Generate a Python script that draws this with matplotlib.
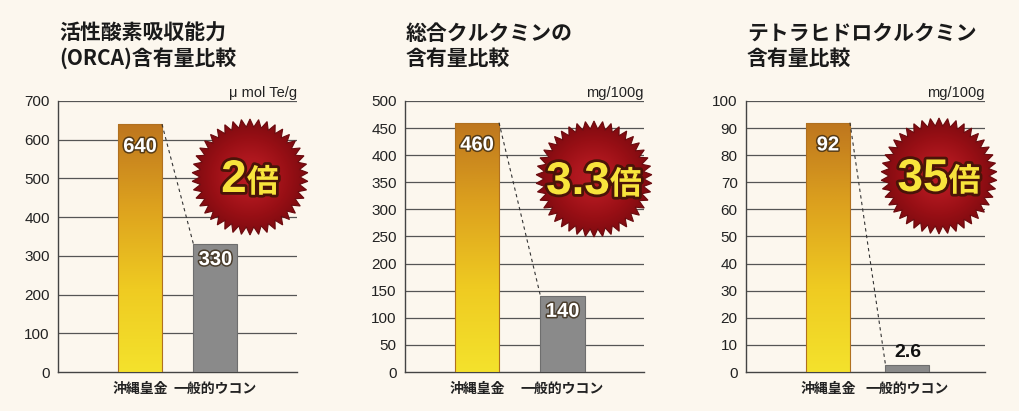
import numpy as np
import matplotlib
matplotlib.use("Agg")
import matplotlib.pyplot as plt
import matplotlib.patheffects as pe
from matplotlib.patches import Polygon
from matplotlib.colors import LinearSegmentedColormap

# ---------------- data ----------------
categories = ["沖縄皇金", "一般的ウコン"]
titles = ["活性酸素吸収能力\n(ORCA)含有量比較", "総合クルクミンの\n含有量比較", "テトラヒドロクルクミン\n含有量比較"]
units = ["μ mol Te/g", "mg/100g", "mg/100g"]
orca_values = [640, 330]
curcumin_values = [460, 140]
thc_values = [92, 2.6]
orca_ticks = [0, 100, 200, 300, 400, 500, 600, 700]
curcumin_ticks = [0, 50, 100, 150, 200, 250, 300, 350, 400, 450, 500]
thc_ticks = [0, 10, 20, 30, 40, 50, 60, 70, 80, 90, 100]
ratio_labels = ["2", "3.3", "35"]
ratio_suffix = "倍"

panels_values = [orca_values, curcumin_values, thc_values]
panels_ticks = [orca_ticks, curcumin_ticks, thc_ticks]

# ---------------- style / layout ----------------
BG = "#FCF7EE"
W, H = 1020, 411
CJK = ["Noto Sans CJK JP", "DejaVu Sans"]
LAT = ["Liberation Sans", "Noto Sans CJK JP"]

fig = plt.figure(figsize=(W / 100, H / 100), dpi=100, facecolor=BG)

ax_left_px = [58, 405, 746]
ax_w_px = 239
y0_px, ytop_px = 372, 101
# per-panel x-limits (bar centres at 0 and 1)
xlims = [(-1.086, 2.08), (-0.842, 1.953), (-1.031, 1.975)]
bar_widths = [0.583, 0.515, 0.553]
star_centres = [(250, 177), (594, 179), (939, 176)]

gold_cmap = LinearSegmentedColormap.from_list(
    "gold", ["#F4E22C", "#EFCB22", "#DDA21E", "#BE761E"])
red_cmap = LinearSegmentedColormap.from_list(
    "red", ["#B81C23", "#AE171E", "#980F15", "#7E0B10"])

ov = fig.add_axes([0, 0, 1, 1], zorder=10)
ov.set_xlim(0, W)
ov.set_ylim(H, 0)
ov.axis("off")
ov.patch.set_alpha(0)
renderer = fig.canvas.get_renderer()

for i in range(3):
    vals = panels_values[i]
    ticks = panels_ticks[i]
    left = ax_left_px[i] / W
    bottom = (H - y0_px) / H
    height = (y0_px - ytop_px) / H
    ax = fig.add_axes([left, bottom, ax_w_px / W, height])
    ax.set_facecolor("none")
    ax.set_xlim(*xlims[i])
    ax.set_ylim(0, ticks[-1])
    ax.set_yticks(ticks)
    ax.set_yticklabels([str(t) for t in ticks], fontfamily=LAT, fontsize=11, color="#222222")
    ax.tick_params(axis="y", length=0, pad=6)
    ax.set_xticks([0, 1])
    ax.set_xticklabels(categories, fontfamily=CJK, fontsize=10, fontweight="bold", color="#222222")
    ax.tick_params(axis="x", length=0, pad=7)
    for s in ["top", "right"]:
        ax.spines[s].set_visible(False)
    ax.spines["left"].set_color("#444444")
    ax.spines["bottom"].set_color("#444444")
    ax.spines["left"].set_linewidth(1.0)
    ax.spines["bottom"].set_linewidth(1.0)
    for t in ticks[1:]:
        ax.axhline(t, color="#555555", lw=0.9, zorder=1)

    w = bar_widths[i]
    bars = ax.bar([0, 1], vals, width=w, zorder=3,
                  color=["none", "#8A8A8A"], edgecolor=["#B07020", "#6E6E6E"], lw=0.8)
    # gradient for gold bar
    gold = bars[0]
    im = ax.imshow(np.linspace(0, 1, 256).reshape(-1, 1), cmap=gold_cmap, aspect="auto",
                   origin="lower", extent=(-w / 2, w / 2, 0, vals[0]), zorder=2.9)
    im.set_clip_path(gold)
    ax.set_xlim(*xlims[i])
    ax.set_ylim(0, ticks[-1])

    # dashed connector
    ax.plot([w / 2, 1 - w / 2], [vals[0], vals[1]], color="#333333", lw=0.8,
            ls=(0, (3, 3)), zorder=4)

    # value labels
    for j, v in enumerate(vals):
        txt = f"{v:g}"
        if v / ticks[-1] < 0.1:
            ax.annotate(txt, (j, v), xytext=(0, 3), textcoords="offset points",
                        ha="center", va="bottom", fontsize=14, fontweight="bold",
                        fontfamily=LAT, color="#111111", zorder=5)
        else:
            off = -16 if j == 0 else -11
            ax.annotate(txt, (j, v), xytext=(0, off), textcoords="offset points",
                        ha="center", va="center", fontsize=14.5, fontweight="bold",
                        fontfamily=LAT, color="white", zorder=5,
                        path_effects=[pe.Stroke(linewidth=2.2, foreground="#3a2a15", alpha=0.8),
                                      pe.Normal()])

    # unit label
    ax.text(1.0, 1.0 + 8 / (y0_px - ytop_px), units[i], transform=ax.transAxes,
            ha="right", va="center", fontsize=10.5, fontfamily=LAT, color="#222222")

    # title
    tx = (ax_left_px[i] + 1) / W
    lines = titles[i].split("\n")
    for k, line in enumerate(lines):
        fig.text(tx, 1 - (33 + 25 * k) / H, line, ha="left", va="center",
                 fontsize=15, fontweight="bold", fontfamily=CJK, color="#1a1a1a")

    # starburst
    cx, cy = star_centres[i]
    n = 42
    R, r = 58, 50
    ang = np.linspace(0, 2 * np.pi, 2 * n, endpoint=False) - np.pi / 2
    rad = np.where(np.arange(2 * n) % 2 == 0, R, r)
    pts = np.column_stack([cx + rad * np.cos(ang), cy + rad * np.sin(ang)])
    star = Polygon(pts, closed=True, facecolor="none", edgecolor="#6A0A0E", lw=0.8, zorder=3)
    ov.add_patch(star)
    yy, xx = np.mgrid[-1:1:200j, -1:1:200j]
    rr = np.clip(np.sqrt(xx ** 2 + yy ** 2), 0, 1)
    sim = ov.imshow(rr, cmap=red_cmap, extent=(cx - R, cx + R, cy + R, cy - R),
                    zorder=2, interpolation="bilinear")
    sim.set_clip_path(star)

    # ratio text: number + kanji, side by side
    outline = [pe.Stroke(linewidth=4, foreground="#4A1408"), pe.Normal()]
    t1 = ov.text(cx, cy + 15, ratio_labels[i], ha="left", va="baseline",
                 fontsize=33, fontweight="bold", fontfamily=LAT, color="#F8E43C",
                 path_effects=outline, zorder=5)
    t2 = ov.text(cx, cy + 15, ratio_suffix, ha="left", va="baseline",
                 fontsize=23, fontweight="bold", fontfamily=CJK, color="#F8E43C",
                 path_effects=outline, zorder=5)
    w1 = t1.get_window_extent(renderer).width
    w2 = t2.get_window_extent(renderer).width
    lx = cx - (w1 + w2) / 2
    t1.set_x(lx)
    t2.set_x(lx + w1)

ov.set_xlim(0, W)
ov.set_ylim(H, 0)

fig.savefig("out.png", dpi=100, facecolor=BG)
